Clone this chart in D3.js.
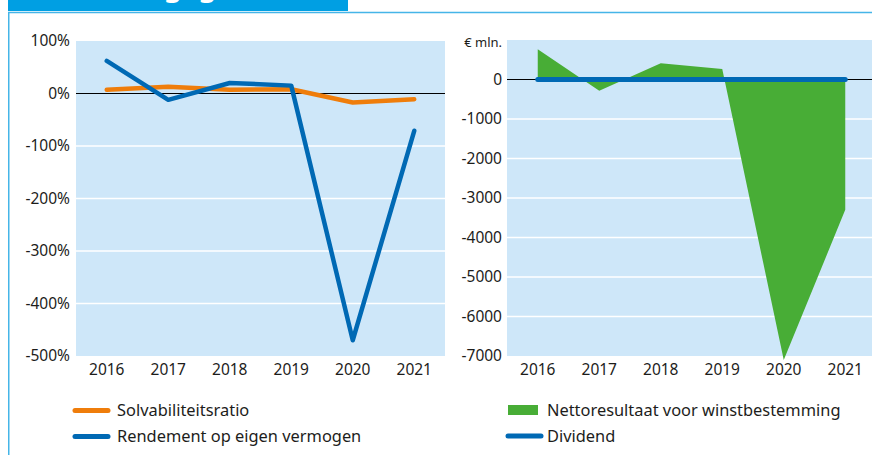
<!DOCTYPE html>
<html>
<head>
<meta charset="utf-8">
<script src="https://cdn.jsdelivr.net/npm/d3@7"></script>
<style>
  body { margin: 0; background: #fff; }
  svg { display: block; font-family: "Noto Sans", sans-serif; }
  .tick-label { font-size: 15.5px; fill: #1d1d1b; }
  .legend-label { font-size: 16.4px; fill: #1d1d1b; }
</style>
</head>
<body>
<div id="chart"></div>
<script>
// DATA
var years = ["2016", "2017", "2018", "2019", "2020", "2021"];
var solvabiliteit = [7, 13, 7, 8, -17, -11];          // %
var rendement = [62, -12, 20, 15, -470, -71];          // %
var nettoresultaat = [765, -284, 410, 266, -7100, -3300]; // € mln.
var dividend = [0, 0, 0, 0, 0, 0];                     // € mln.
var pct_ticks = [100, 0, -100, -200, -300, -400, -500];
var mln_ticks = [0, -1000, -2000, -3000, -4000, -5000, -6000, -7000];

var width = 872;
var height = 455;

var bg_color = "#cee7f9";
var orange = "#ef7d0b";
var blue = "#0069b4";
var green = "#48ad36";

var svg = d3.select("#chart").append("svg")
  .attr("width", width)
  .attr("height", height);

// banner + frame
svg.append("rect")
  .attr("x", 8).attr("y", 0)
  .attr("width", 340).attr("height", 11)
  .attr("fill", "#009fe3");

var title = svg.append("text")
  .attr("y", -4)
  .attr("font-size", 28)
  .attr("font-weight", "bold")
  .attr("fill", "white")
  .text("Kerngegevens");
// line the "g" of the title up with the visible descenders
var pre = title.node().getSubStringLength(0, 4);
title.attr("x", 164 - pre);

svg.append("line")
  .attr("x1", 8).attr("x2", width)
  .attr("y1", 12.5).attr("y2", 12.5)
  .attr("stroke", "#45b5e8").attr("stroke-width", 1.5);
svg.append("line")
  .attr("x1", 8.75).attr("x2", 8.75)
  .attr("y1", 12).attr("y2", height)
  .attr("stroke", "#45b5e8").attr("stroke-width", 1.5);

// LEFT CHART
var x1 = d3.scaleBand().domain(years).range([76, 445]);
var y1 = d3.scaleLinear().domain([-500, 100]).range([356, 41]);

var left = svg.append("g").attr("class", "left");

left.append("rect")
  .attr("x", x1.range()[0]).attr("y", y1(100))
  .attr("width", x1.range()[1] - x1.range()[0])
  .attr("height", y1(-500) - y1(100))
  .attr("fill", bg_color);

left.selectAll(".grid")
  .data(pct_ticks.filter(function(t) { return t < 100 && t > -500; }))
  .enter().append("line")
    .attr("class", "grid")
    .attr("x1", x1.range()[0]).attr("x2", x1.range()[1])
    .attr("y1", function(t) { return y1(t); })
    .attr("y2", function(t) { return y1(t); })
    .attr("stroke", function(t) { return t == 0 ? "#000" : "#fff"; })
    .attr("stroke-width", function(t) { return t == 0 ? 1.2 : 1.5; });

left.selectAll(".ylab")
  .data(pct_ticks)
  .enter().append("text")
    .attr("class", "tick-label")
    .attr("x", 70)
    .attr("y", function(t) { return y1(t); })
    .attr("dy", "0.35em")
    .attr("text-anchor", "end")
    .text(function(t) { return t + "%"; });

left.selectAll(".xlab")
  .data(years)
  .enter().append("text")
    .attr("class", "tick-label")
    .attr("x", function(d) { return x1(d) + x1.bandwidth() / 2; })
    .attr("y", 370)
    .attr("dy", "0.35em")
    .attr("text-anchor", "middle")
    .text(function(d) { return d; });

var line1 = d3.line()
  .x(function(d, i) { return x1(years[i]) + x1.bandwidth() / 2; })
  .y(function(d) { return y1(d); });

left.append("path")
  .attr("d", line1(solvabiliteit))
  .attr("fill", "none")
  .attr("stroke", orange)
  .attr("stroke-width", 4.5)
  .attr("stroke-linejoin", "round")
  .attr("stroke-linecap", "round");

left.append("path")
  .attr("d", line1(rendement))
  .attr("fill", "none")
  .attr("stroke", blue)
  .attr("stroke-width", 4.5)
  .attr("stroke-linejoin", "round")
  .attr("stroke-linecap", "round");

// RIGHT CHART
var x2 = d3.scaleBand().domain(years).range([507, 876]);
var y2 = d3.scaleLinear().domain([-7000, 1000]).range([356, 40]);

var right = svg.append("g").attr("class", "right");

right.append("rect")
  .attr("x", x2.range()[0]).attr("y", y2(1000))
  .attr("width", x2.range()[1] - x2.range()[0])
  .attr("height", y2(-7000) - y2(1000))
  .attr("fill", bg_color);

right.selectAll(".grid")
  .data(mln_ticks.filter(function(t) { return t > -7000; }))
  .enter().append("line")
    .attr("class", "grid")
    .attr("x1", x2.range()[0]).attr("x2", x2.range()[1])
    .attr("y1", function(t) { return y2(t); })
    .attr("y2", function(t) { return y2(t); })
    .attr("stroke", function(t) { return t == 0 ? "#000" : "#fff"; })
    .attr("stroke-width", function(t) { return t == 0 ? 1.2 : 1.5; });

right.selectAll(".ylab")
  .data(mln_ticks)
  .enter().append("text")
    .attr("class", "tick-label")
    .attr("x", 502)
    .attr("y", function(t) { return y2(t); })
    .attr("dy", "0.35em")
    .attr("text-anchor", "end")
    .text(function(t) { return t; });

right.append("text")
  .attr("class", "tick-label")
  .attr("x", 502)
  .attr("y", 47)
  .attr("text-anchor", "end")
  .style("font-size", "13px")
  .text("€ mln.");

right.selectAll(".xlab")
  .data(years)
  .enter().append("text")
    .attr("class", "tick-label")
    .attr("x", function(d) { return x2(d) + x2.bandwidth() / 2; })
    .attr("y", 370)
    .attr("dy", "0.35em")
    .attr("text-anchor", "middle")
    .text(function(d) { return d; });

var area2 = d3.area()
  .x(function(d, i) { return x2(years[i]) + x2.bandwidth() / 2; })
  .y0(y2(0))
  .y1(function(d) { return y2(d); });

right.append("path")
  .attr("d", area2(nettoresultaat))
  .attr("fill", green);

var line2 = d3.line()
  .x(function(d, i) { return x2(years[i]) + x2.bandwidth() / 2; })
  .y(function(d) { return y2(d); });

right.append("path")
  .attr("d", line2(dividend))
  .attr("fill", "none")
  .attr("stroke", blue)
  .attr("stroke-width", 5)
  .attr("stroke-linecap", "round");

// LEGENDS
var legend_left = [
  {name: "Solvabiliteitsratio", color: orange, y: 410.5},
  {name: "Rendement op eigen vermogen", color: blue, y: 436.5}
];
var ll = svg.selectAll(".legend-left")
  .data(legend_left)
  .enter().append("g")
    .attr("class", "legend-left");
ll.append("line")
  .attr("x1", 75).attr("x2", 108)
  .attr("y1", function(d) { return d.y; })
  .attr("y2", function(d) { return d.y; })
  .attr("stroke", function(d) { return d.color; })
  .attr("stroke-width", 5)
  .attr("stroke-linecap", "round");
ll.append("text")
  .attr("class", "legend-label")
  .attr("x", 117)
  .attr("y", function(d) { return d.y; })
  .attr("dy", "0.35em")
  .text(function(d) { return d.name; });

var lr = svg.append("g").attr("class", "legend-right");
lr.append("rect")
  .attr("x", 508).attr("y", 405)
  .attr("width", 30).attr("height", 10)
  .attr("fill", green);
lr.append("text")
  .attr("class", "legend-label")
  .attr("x", 547).attr("y", 410)
  .attr("dy", "0.35em")
  .text("Nettoresultaat voor winstbestemming");
lr.append("line")
  .attr("x1", 508).attr("x2", 541)
  .attr("y1", 436).attr("y2", 436)
  .attr("stroke", blue)
  .attr("stroke-width", 5)
  .attr("stroke-linecap", "round");
lr.append("text")
  .attr("class", "legend-label")
  .attr("x", 547).attr("y", 436)
  .attr("dy", "0.35em")
  .text("Dividend");
</script>
</body>
</html>
